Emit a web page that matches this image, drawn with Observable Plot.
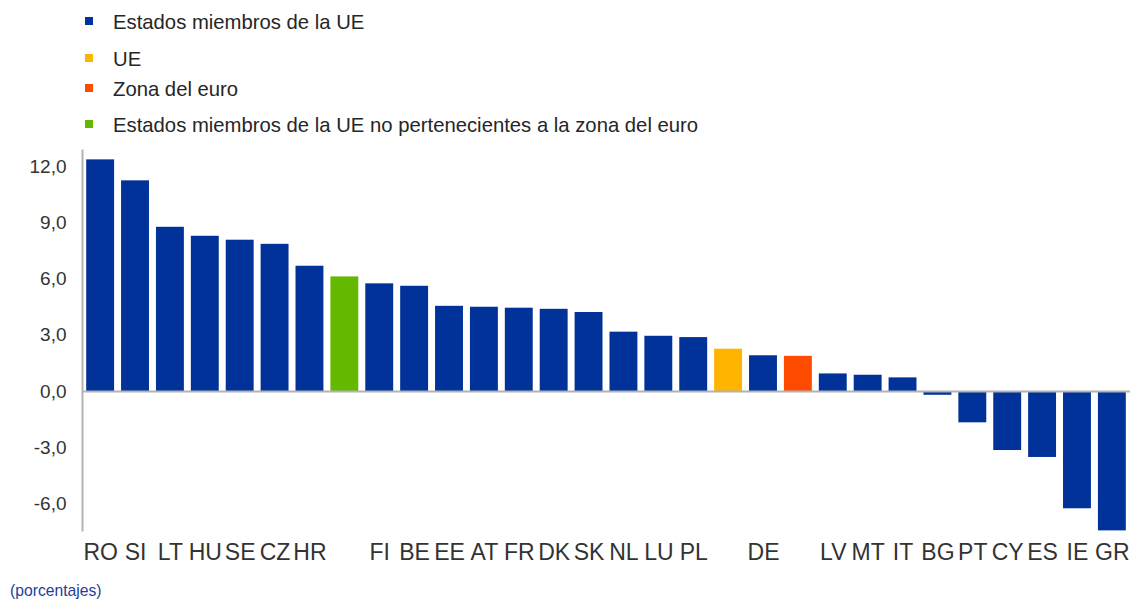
<!DOCTYPE html>
<html>
<head>
<meta charset="utf-8">
<script src="https://cdn.jsdelivr.net/npm/d3@7"></script>
<script src="https://cdn.jsdelivr.net/npm/@observablehq/plot@0.6"></script>
<style>
  html, body { margin: 0; padding: 0; background: #fff; }
  body { width: 1133px; height: 600px; position: relative; overflow: hidden; font-family: "Liberation Sans", Arial, sans-serif; }
  .leg { position: absolute; left: 85px; display: flex; align-items: center; font-size: 20.3px; color: #262626; white-space: nowrap; height: 24px; }
  .leg .sw { width: 8px; height: 8px; margin-right: 20px; margin-top: -3px; }
  #chart { position: absolute; left: 0; top: 140px; }
  #caption { position: absolute; left: 10px; top: 582px; font-size: 15.7px; color: #1f3d99; }
</style>
</head>
<body>
<div id="legend"></div>
<div id="chart"></div>
<div id="caption">(porcentajes)</div>
<script>
// Categories (keys), displayed tick labels, values, and groups
const keys = ["RO","SI","LT","HU","SE","CZ","HR","UE-noZE","FI","BE","EE","AT","FR","DK","SK","NL","LU","PL","UE","DE","ZE","LV","MT","IT","BG","PT","CY","ES","IE","GR"];
const tickLabels = ["RO","SI","LT","HU","SE","CZ","HR","","FI","BE","EE","AT","FR","DK","SK","NL","LU","PL","","DE","","LV","MT","IT","BG","PT","CY","ES","IE","GR"];
const values = [12.37, 11.25, 8.77, 8.29, 8.08, 7.86, 6.69, 6.12, 5.75, 5.62, 4.55, 4.50, 4.45, 4.39, 4.22, 3.17, 2.95, 2.88, 2.26, 1.91, 1.88, 0.94, 0.87, 0.73, -0.2, -1.67, -3.15, -3.52, -6.26, -7.44];
const groupIndex = [0,0,0,0,0,0,0,3,0,0,0,0,0,0,0,0,0,0,1,0,2,0,0,0,0,0,0,0,0,0];
const groups = ["Estados miembros de la UE", "UE", "Zona del euro", "Estados miembros de la UE no pertenecientes a la zona del euro"];
const groupColors = ["#003299", "#FFB400", "#FF4B00", "#65B800"];
const yTicks = [-6, -3, 0, 3, 6, 9, 12];
const legendTops = [10, 47, 77, 113];

const data = keys.map((k, i) => ({key: k, label: tickLabels[i], value: values[i], group: groups[groupIndex[i]]}));
const labelOf = new Map(keys.map((k, i) => [k, tickLabels[i]]));

// Legend
const legend = document.getElementById("legend");
groups.forEach((g, i) => {
  const row = document.createElement("div");
  row.className = "leg";
  row.style.top = legendTops[i] + "px";
  const sw = document.createElement("span");
  sw.className = "sw";
  sw.style.background = groupColors[i];
  const tx = document.createElement("span");
  tx.textContent = g;
  row.appendChild(sw);
  row.appendChild(tx);
  legend.appendChild(row);
});

const fmt = d => d.toFixed(1).replace(".", ",");

const plot = Plot.plot({
  width: 1133,
  height: 440,
  marginTop: 10,
  marginBottom: 50,
  marginLeft: 82,
  marginRight: 3,
  style: {fontFamily: "Liberation Sans, Arial, sans-serif", background: "transparent"},
  x: {domain: keys, paddingInner: 0.2, paddingOuter: 0.12, round: false, axis: null},
  y: {domain: [-7.42, 12.87], axis: null},
  color: {domain: groups, range: groupColors},
  marks: [
    Plot.barY(data, {x: "key", y: "value", fill: "group"}),
    Plot.ruleY([0], {stroke: "#b3b3b3", strokeWidth: 2}),
    Plot.frame({anchor: "left", stroke: "#b3b3b3", strokeWidth: 2}),
    Plot.axisY({ticks: yTicks, tickSize: 0, tickPadding: 16, tickFormat: fmt, fontSize: 19, fill: "#333", label: null}),
    Plot.axisX({tickSize: 0, tickPadding: 13, tickFormat: d => labelOf.get(d), fontSize: 23, fill: "#333", label: null})
  ]
});
document.getElementById("chart").appendChild(plot);
</script>
</body>
</html>
